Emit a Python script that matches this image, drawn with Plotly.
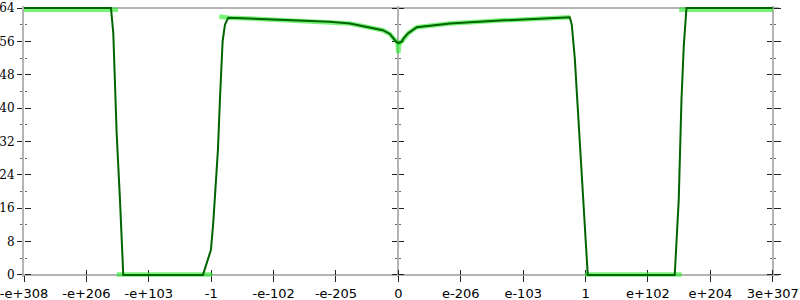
import plotly.graph_objects as go

# ---- data ----
x_tick_vals = [0, 1, 2, 3, 4, 5, 6, 7, 8, 9, 10, 11, 12]
x_tick_text = ["-e+308", "-e+206", "-e+103", "-1", "-e-102", "-e-205", "0",
               "e-206", "e-103", "1", "e+102", "e+204", "3e+307"]

# smoothed average error (dark line)
avg_x = [0.0, 1.394, 1.431, 1.485, 1.538, 1.591,
         2.868, 2.948, 2.996, 3.033, 3.060, 3.108, 3.140, 3.183, 3.220, 3.273,
         3.781, 4.261, 4.902, 5.223, 5.751, 5.864, 5.912, 5.960, 6.0,
         6.048, 6.096, 6.160, 6.296, 6.825, 7.626, 8.267, 8.747,
         8.779, 8.827, 8.875, 8.923, 8.960, 9.003, 9.035,
         10.429, 10.461, 10.493, 10.537, 10.574, 10.617, 12.0]
avg_y = [64, 64, 58, 34, 18, 0,
         0, 4, 6, 12.5, 18, 30, 42, 56, 60, 61.7,
         61.4, 61.1, 60.7, 60.3, 58.7, 57.8, 56.9, 56.0, 55.6,
         55.9, 57.0, 58.0, 59.4, 60.3, 61.0, 61.4, 61.8,
         60, 52, 40, 28, 18, 10, 0,
         0, 10, 18, 42, 55, 64, 64]

# raw sampled error (light band), segments separated by gaps
pts_x = [0.0, 1.506, None,
         1.485, 3.02, None,
         3.13, 3.273, 3.781, 4.261, 4.902, 5.223, 5.751, 5.864, 5.912, 5.960,
         6.0, 6.048, 6.096, 6.160, 6.296, 6.825, 7.626, 8.267, 8.75, None,
         5.985, 6.0, 6.015, None,
         8.99, 10.54, None,
         10.5, 12.0]
pts_y = [63.6, 63.6, None,
         0.1, 0.1, None,
         62.0, 61.7, 61.4, 61.1, 60.7, 60.3, 58.7, 57.8, 56.9, 56.0,
         55.6, 55.9, 57.0, 58.0, 59.4, 60.3, 61.0, 61.4, 61.8, None,
         56.0, 53.2, 56.0, None,
         0.1, 0.1, None,
         63.6, 63.6]

y_range = [-0.5, 64.5]
x_range = [0, 12.1]

AX = "#b4b4b4"
TK = "#222222"
MN = "#666666"

fig = go.Figure()
fig.add_trace(go.Scatter(x=pts_x, y=pts_y, mode="lines", connectgaps=False,
                         line=dict(color="rgba(30,235,30,0.6)", width=4.5),
                         hoverinfo="skip"))
fig.add_trace(go.Scatter(x=avg_x, y=avg_y, mode="lines",
                         line=dict(color="#006400", width=2),
                         hoverinfo="skip"))
# dummy traces so every overlay axis is drawn
for ya in ["y2", "y3", "y4", "y5", "y6", "y7"]:
    fig.add_trace(go.Scatter(x=[None], y=[None], yaxis=ya, xaxis="x",
                             mode="lines", hoverinfo="skip"))
fig.add_trace(go.Scatter(x=[None], y=[None], xaxis="x2", yaxis="y",
                         mode="lines", hoverinfo="skip"))

x0pos = 0.5 / 65.0
cpos = 6 / 12.1
rpos = 12 / 12.1


def yax(side, pos, ticklen, showline, overlay=True):
    d = dict(range=y_range, tickmode="linear", tick0=0, dtick=8,
             ticks="outside", ticklen=ticklen, tickcolor=TK, tickwidth=1,
             showline=showline, linecolor=AX, linewidth=2,
             showgrid=False, zeroline=False, showticklabels=False,
             side=side, anchor="free", position=pos, layer="below traces",
             automargin=False,
             minor=dict(dtick=4, tick0=0, ticks="outside", ticklen=2,
                        tickcolor=MN, tickwidth=1, showgrid=False))
    if overlay:
        d["overlaying"] = "y"
    return d


ymain = yax("left", 0, 5, True, overlay=False)
ymain.update(showticklabels=True, ticklabeloverflow="allow",
             tickfont=dict(family="DejaVu Serif", size=12, color="black"),
             anchor="x")
ymain.pop("position")

fig.update_layout(
    width=800, height=300,
    margin=dict(l=24, r=21, t=6, b=23, autoexpand=False),
    plot_bgcolor="white", paper_bgcolor="white",
    showlegend=False,
    xaxis=dict(range=x_range, tickmode="array", tickvals=x_tick_vals,
               ticktext=x_tick_text, ticks="outside", ticklen=6,
               tickcolor=TK, tickwidth=1, showline=True, linecolor=AX,
               linewidth=2, showgrid=False, zeroline=False,
               anchor="free", position=x0pos, layer="below traces",
               automargin=False, ticklabeloverflow="allow",
               tickfont=dict(family="DejaVu Sans", size=13, color="black")),
    xaxis2=dict(range=x_range, tickmode="array", tickvals=x_tick_vals,
                ticks="inside", ticklen=5, tickcolor=TK, tickwidth=1,
                showline=False, showgrid=False, zeroline=False,
                showticklabels=False, overlaying="x", anchor="free",
                position=x0pos, side="bottom", layer="below traces",
                automargin=False),
    yaxis=ymain,
    yaxis2=yax("right", 0, 6, False),
    yaxis3=yax("left", cpos, 5, True),
    yaxis4=yax("right", cpos, 5, False),
    yaxis5=yax("left", rpos, 5, True),
    yaxis6=yax("right", rpos, 7, False),
    yaxis7=dict(range=y_range, overlaying="y", anchor="free", position=0,
                tickmode="array", tickvals=[64], ticks="", showline=False,
                showgrid=True, gridcolor=AX, gridwidth=2, zeroline=False,
                showticklabels=False, layer="below traces", automargin=False),
)

fig.write_html("out.html")
